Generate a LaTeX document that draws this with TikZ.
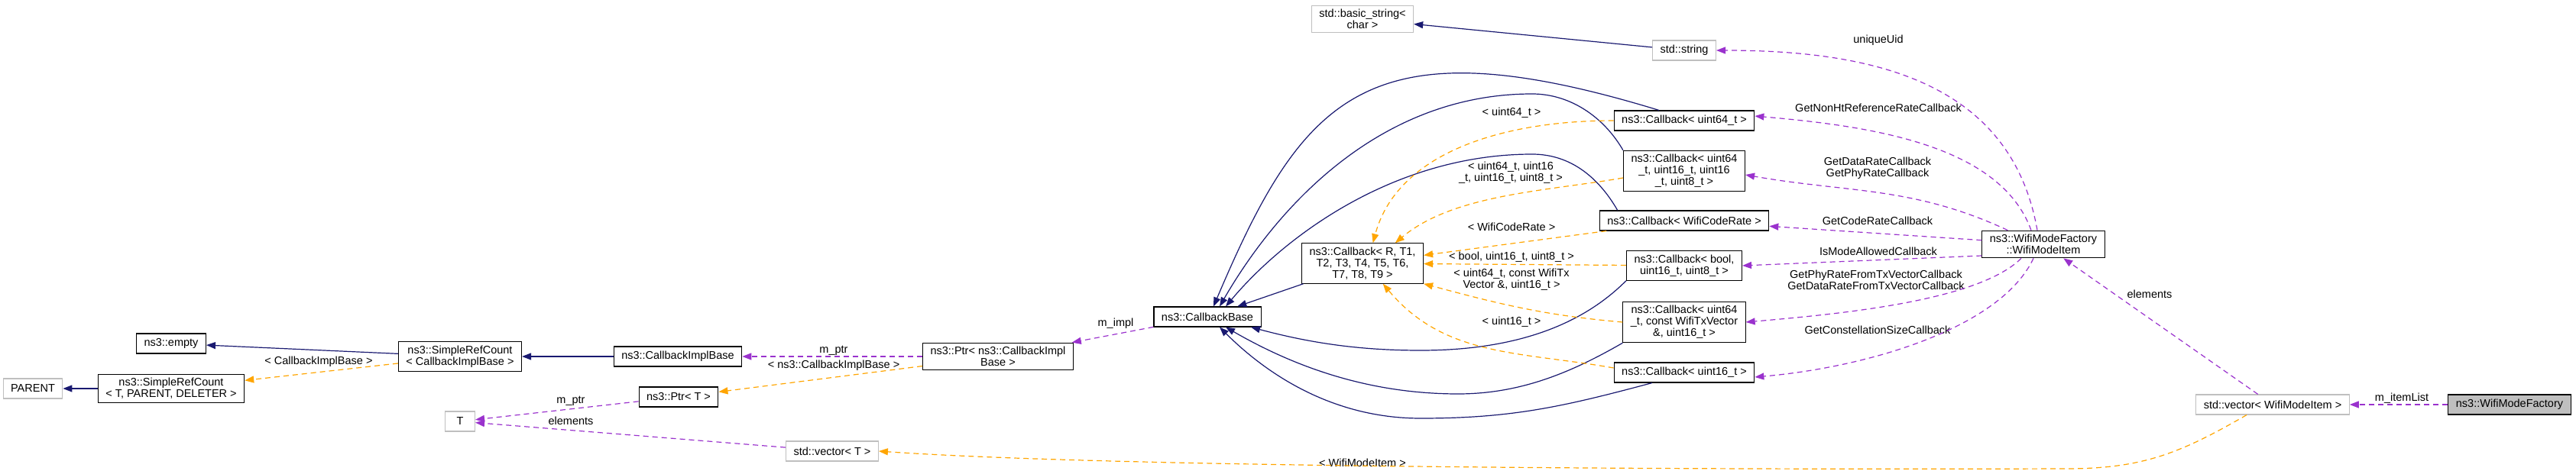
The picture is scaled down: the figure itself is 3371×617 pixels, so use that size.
\documentclass[tikz,border=0pt]{standalone}
\usepackage{fontspec}
\setmainfont{Liberation Sans}
\usetikzlibrary{arrows.meta}
\definecolor{dxnavy}{HTML}{191970}
\definecolor{dxpurple}{HTML}{9A32CD}
\definecolor{dxorange}{HTML}{FFA500}
\definecolor{dxgray}{HTML}{BFBFBF}
\newcommand{\dxfont}{\fontsize{14.5}{15}\selectfont}

\begin{document}
\begin{tikzpicture}[x=1pt, y=-1pt, >={Triangle[length=12pt,width=9pt]},
    cls/.style ={draw, line width=1.1pt, fill=white, align=center, inner xsep=10pt, inner ysep=5pt, minimum height=26pt, font=\dxfont},
    extcls/.style ={cls, draw=dxgray},
    focus/.style ={cls, fill=dxgray},
    lbl/.style ={font=\dxfont, align=center, inner sep=0pt},
    inh/.style ={->, dxnavy, line width=1.2pt},
    member/.style ={->, dxpurple, line width=1.2pt, dash pattern=on 7pt off 5pt},
    tmpl/.style ={->, dxorange, line width=1.2pt, dash pattern=on 7pt off 5pt}]
   \useasboundingbox (0,0) rectangle (3371,617);

   \node[extcls] (parent)  at (43,509)   {PARENT};
   \node[cls]    (srcT)    at (224,509)  {ns3::SimpleRefCount\\< T, PARENT, DELETER >};
   \node[cls]    (empty)   at (224,450)  {ns3::empty};
   \node[cls]    (srcCIB)  at (602,467)  {ns3::SimpleRefCount\\< CallbackImplBase >};
   \node[extcls, minimum width=39pt] (T) at (602,552) {T};
   \node[cls]    (cib)     at (887,467)  {ns3::CallbackImplBase};
   \node[cls]    (ptrT)    at (888,520)  {ns3::Ptr< T >};
   \node[cls]    (ptrCIB)  at (1306,467) {ns3::Ptr< ns3::CallbackImpl\\Base >};
   \node[extcls] (vecT)    at (1089,591) {std::vector< T >};
   \node[cls]    (cbase)   at (1580,415) {ns3::CallbackBase};
   \node[cls]    (cbR)     at (1783,345) {ns3::Callback< R, T1,\\T2, T3, T4, T5, T6,\\T7, T8, T9 >};
   \node[extcls] (bstr)    at (1783,25)  {std::basic\_string<\\char >};
   \node[extcls] (str)     at (2204,66)  {std::string};
   \node[cls]    (cb64)    at (2204,158) {ns3::Callback< uint64\_t >};
   \node[cls]    (cb64b)   at (2204,224) {ns3::Callback< uint64\\\_t, uint16\_t, uint16\\\_t, uint8\_t >};
   \node[cls]    (cbCode)  at (2204,289) {ns3::Callback< WifiCodeRate >};
   \node[cls]    (cbBool)  at (2204,348) {ns3::Callback< bool,\\uint16\_t, uint8\_t >};
   \node[cls]    (cbTx)    at (2204,422) {ns3::Callback< uint64\\\_t, const WifiTxVector\\\&, uint16\_t >};
   \node[cls]    (cb16)    at (2204,488) {ns3::Callback< uint16\_t >};
   \node[cls]    (item)    at (2674,320) {ns3::WifiModeFactory\\::WifiModeItem};
   \node[extcls] (vecItem) at (2974,530) {std::vector< WifiModeItem >};
   \node[focus]  (factory) at (3284,530) {ns3::WifiModeFactory};

   \node[lbl] (lCIB)      at (417,474)  {< CallbackImplBase >};
   \node[lbl] (lPtrT)     at (747,525)  {m\_ptr};
   \node[lbl] (lElemT)    at (747,551)  {elements};
   \node[lbl] (lPtrCIB)   at (1091,459) {m\_ptr};
   \node[lbl] (lTmplCIB)  at (1091,479) {< ns3::CallbackImplBase >};
   \node[lbl] (lImpl)     at (1460,424) {m\_impl};
   \node[lbl] (lU64)      at (1978,148) {< uint64\_t >};
   \node[lbl] (lU64b)     at (1977,226) {< uint64\_t, uint16\\\_t, uint16\_t, uint8\_t >};
   \node[lbl] (lCode)     at (1978,297) {< WifiCodeRate >};
   \node[lbl] (lBool)     at (1978,337) {< bool, uint16\_t, uint8\_t >};
   \node[lbl] (lTx)       at (1978,366) {< uint64\_t, const WifiTx\\Vector \&, uint16\_t >};
   \node[lbl] (lU16)      at (1978,422) {< uint16\_t >};
   \node[lbl] (lItemT)    at (1783,606) {< WifiModeItem >};
   \node[lbl] (lUid)      at (2458,53)  {uniqueUid};
   \node[lbl] (lNonHt)    at (2458,141) {GetNonHtReferenceRateCallback};
   \node[lbl] (lRate)     at (2457,220) {GetDataRateCallback\\GetPhyRateCallback};
   \node[lbl] (lCodeCb)   at (2457,289) {GetCodeRateCallback};
   \node[lbl] (lAllowed)  at (2458,329) {IsModeAllowedCallback};
   \node[lbl] (lTxCb)     at (2455,367) {GetPhyRateFromTxVectorCallback\\GetDataRateFromTxVectorCallback};
   \node[lbl] (lConst)    at (2457,432) {GetConstellationSizeCallback};
   \node[lbl] (lElem)     at (2813,385) {elements};
   \node[lbl] (lItemList) at (3143,522) {m\_itemList};

   \draw[inh] (srcCIB) -- (empty);
   \draw[inh] (srcT) -- (parent);
   \draw[inh] (cib) -- (srcCIB);
   \draw[inh] (str) -- (bstr);
   \draw[inh] (cbR) -- (cbase);
   \draw[inh] ([xshift=-33pt]cb64.north) to[out=163, in=67, out distance=400pt, in distance=300pt] ([xshift=8pt]cbase.north);
   \draw[inh] (cb64b.north west) to[out=120, in=0, distance=50pt] (2005,123)
      to[out=180, in=60, out distance=200pt, in distance=150pt] ([xshift=16pt]cbase.north);
   \draw[inh] ([xshift=24pt]cbCode.north west) to[out=120, in=0, distance=50pt] (2005,202)
      to[out=180, in=50, out distance=180pt, in distance=120pt] ([xshift=24pt]cbase.north);
   \draw[inh] (cbBool.south west) to[out=225, in=0, out distance=60pt, in distance=150pt] (1859,459)
      to[out=180, in=-15, distance=80pt] ([xshift=57pt]cbase.south);
   \draw[inh] (cbTx.south west) to[out=210, in=0, distance=80pt] (1908,516)
      to[out=180, in=-30, out distance=120pt, in distance=100pt] ([xshift=24pt]cbase.south);
   \draw[inh] ([xshift=-42pt]cb16.south) to[out=195, in=0, distance=120pt] (1859,548)
      to[out=180, in=-45, out distance=120pt, in distance=80pt] ([xshift=16pt]cbase.south);

   \draw[tmpl] (srcCIB) -- (srcT);
   \draw[tmpl] (ptrCIB) -- (ptrT);
   \draw[tmpl] (cb64.west) to[out=180, in=75, out distance=150pt, in distance=120pt] (cbR.63);
   \draw[tmpl] ([yshift=-9pt]cb64b.west) to[out=190, in=40, distance=100pt] (cbR.32);
   \draw[tmpl] (cbCode) -- (cbR);
   \draw[tmpl] (cbBool) -- (cbR);
   \draw[tmpl] (cbTx.west) to[out=175, in=-15] (cbR.south east);
   \draw[tmpl] ([yshift=6pt]cb16.west) to[out=170, in=-50] (cbR.-45);
   \draw[tmpl] ([xshift=-34pt]vecItem.south) to[out=210, in=0, distance=100pt] (2704,614)
      .. controls (2400,615) and (1500,615) .. (vecT.east);

   \draw[member] (ptrCIB) -- (cib);
   \draw[member] (cbase) -- (ptrCIB);
   \draw[member] (ptrT) -- (T);
   \draw[member] (vecT) -- (T);
   \draw[member] (factory) -- (vecItem);
   \draw[member] (vecItem) -- (item);
   \draw[member] ([xshift=-8pt]item.north) to[out=100, in=0, distance=200pt] (str.east);
   \draw[member] ([xshift=-16pt]item.north) to[out=110, in=-5, out distance=120pt, in distance=150pt] ([yshift=6pt]cb64.east);
   \draw[member] ([xshift=34pt]item.north west) to[out=155, in=-10] ([yshift=-5pt]cb64b.east);
   \draw[member] (item) -- (cbCode);
   \draw[member] ([yshift=-15pt]item.west) -- (cbBool.east);
   \draw[member] ([xshift=-29pt]item.south) to[out=225, in=5, out distance=80pt, in distance=120pt] (cbTx.east);
   \draw[member] ([xshift=-13pt]item.south) to[out=245, in=5, out distance=100pt, in distance=150pt] ([yshift=-6pt]cb16.east);
\end{tikzpicture}
\end{document}
